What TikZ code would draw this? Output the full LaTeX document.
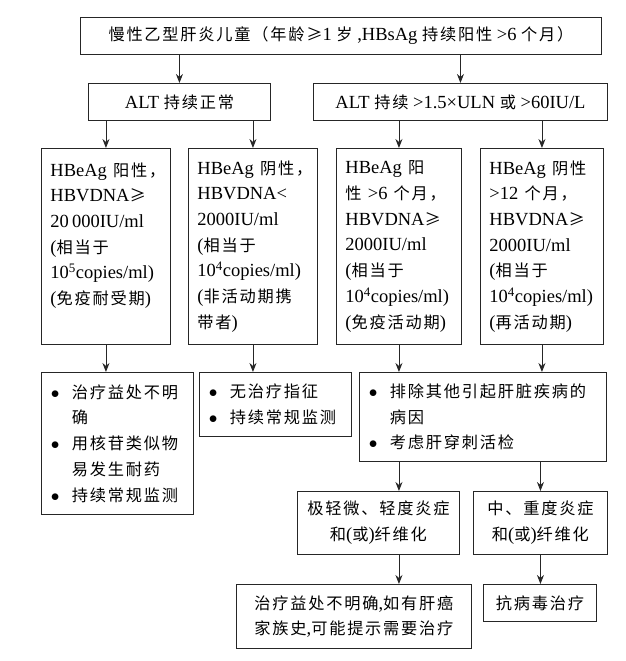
\documentclass[tikz,border=0pt]{standalone}
\usepackage{fontspec}
\setmainfont{Liberation Serif}
\newfontfamily\zhfont[Scale=0.876,LetterSpace=11]{Noto Sans CJK SC}
\usepackage{tikz}
\usetikzlibrary{arrows.meta,calc}
\newcommand{\zh}[1]{{\zhfont #1}}
\newcommand{\bul}{\makebox[21pt][l]{$\bullet$}}
\newcommand{\bulskip}{\hspace*{21pt}}
\tikzstyle{box} = [draw=black!85, line width=0.9pt, rectangle, inner sep=0pt, anchor=north west, font=\fontsize{18.5}{25.7}\selectfont]
\tikzstyle{cbox} = [box, align=center]
\tikzstyle{lbox} = [box, align=left, inner xsep=9pt]
\tikzstyle{bbox} = [box, align=left, inner xsep=9.5pt]
\tikzstyle{to} = [-{Stealth[length=9pt,width=7pt]}, line width=0.9pt, draw=black!85]

\begin{document}
\begin{tikzpicture}[x=1pt, y=-1pt]
		\useasboundingbox (0,0) rectangle (626,661);
		% top row
		\node (top) [cbox, minimum width=521pt, minimum height=37pt] at (80,17)
			{\zh{慢性乙型肝炎儿童（年龄≥}1 \zh{岁}\ ,HBsAg \zh{持续阳性} >6 \zh{个月）}};
		\node (altn) [cbox, minimum width=182pt, minimum height=37pt] at (88,83)
			{ALT \zh{持续正常}};
		\node (altr) [cbox, minimum width=294pt, minimum height=37pt] at (313,83)
			{ALT \zh{持续} >1.5×ULN \zh{或} >60IU/L};
		% phases
		\node (hb1) [lbox, text width=111pt, minimum height=196pt] at (41,148)
			{HBeAg~\zh{阳性，}\\HBVDNA\zh{≥}\\20\,000IU/ml\\(\zh{相当于}\\10\textsuperscript{5}copies/ml)\\(\zh{免疫耐受期})\\\mbox{}};
		\node (hb2) [lbox, text width=111pt, minimum height=196pt] at (188,148)
			{HBeAg~\zh{阴性，}\\HBVDNA<\\2000IU/ml\\(\zh{相当于}\\10\textsuperscript{4}copies/ml)\\(\zh{非活动期携}\\\zh{带者})};
		\node (hb3) [lbox, text width=107pt, minimum height=196pt] at (336,148)
			{HBeAg~\zh{阳}\\\zh{性}~>6~\zh{个月，}\\HBVDNA\zh{≥}\\2000IU/ml\\(\zh{相当于}\\10\textsuperscript{4}copies/ml)\\(\zh{免疫活动期})};
		\node (hb4) [lbox, text width=105pt, minimum height=196pt] at (480,148)
			{HBeAg~\zh{阴性}\\>12~\zh{个月，}\\HBVDNA\zh{≥}\\2000IU/ml\\(\zh{相当于}\\10\textsuperscript{4}copies/ml)\\(\zh{再活动期})};
		% advice
		\node (bul1) [bbox, text width=133pt, minimum height=142pt] at (41,372)
			{\bul\zh{治疗益处不明}\\\bulskip\zh{确}\\\bul\zh{用核苷类似物}\\\bulskip\zh{易发生耐药}\\\bul\zh{持续常规监测}};
		\node (bul2) [bbox, text width=133pt, minimum height=64pt] at (199,372)
			{\bul\zh{无治疗指征}\\\bul\zh{持续常规监测}};
		\node (bul3) [bbox, text width=228pt, minimum height=89pt] at (359,372)
			{\bul\zh{排除其他引起肝脏疾病的}\\\bulskip\zh{病因}\\\bul\zh{考虑肝穿刺活检}};
		\node (mild) [cbox, minimum width=162pt, minimum height=63pt] at (297,491)
			{\zh{极轻微、轻度炎症}\\\zh{和}(\zh{或})\zh{纤维化}};
		\node (sev) [cbox, minimum width=134pt, minimum height=63pt] at (473,491)
			{\zh{中、重度炎症}\\\zh{和}(\zh{或})\zh{纤维化}};
		\node (fin) [cbox, minimum width=235pt, minimum height=64pt] at (236,584)
			{\zh{治疗益处不明确},\zh{如有肝癌}\\\zh{家族史},\zh{可能提示需要治疗}};
		\node (anti) [cbox, minimum width=113pt, minimum height=37pt] at (483,584)
			{\zh{抗病毒治疗}};
		%
		\draw[to] (top.south -| altn.north) -- (altn.north);
		\draw[to] (top.south -| altr.north) -- (altr.north);
		\draw[to] (altn.south -| hb1.north) -- (hb1.north);
		\draw[to] (altn.south -| hb2.north) -- (hb2.north);
		\draw[to] (altr.south -| hb3.north) -- (hb3.north);
		\draw[to] (altr.south -| hb4.north) -- (hb4.north);
		\draw[to] (hb1.south) -- (hb1.south |- bul1.north);
		\draw[to] (hb2.south) -- (hb2.south |- bul2.north);
		\draw[to] (hb3.south) -- (hb3.south |- bul3.north);
		\draw[to] (hb4.south) -- (hb4.south |- bul3.north);
		\draw[to] (bul3.south -| hb3.south) -- (mild.north -| hb3.south);
		\draw[to] (bul3.south -| sev.north) -- (sev.north);
		\draw[to] (mild.south -| hb3.south) -- (fin.north -| hb3.south);
		\draw[to] (sev.south) -- (sev.south |- anti.north);
\end{tikzpicture}
\end{document}
